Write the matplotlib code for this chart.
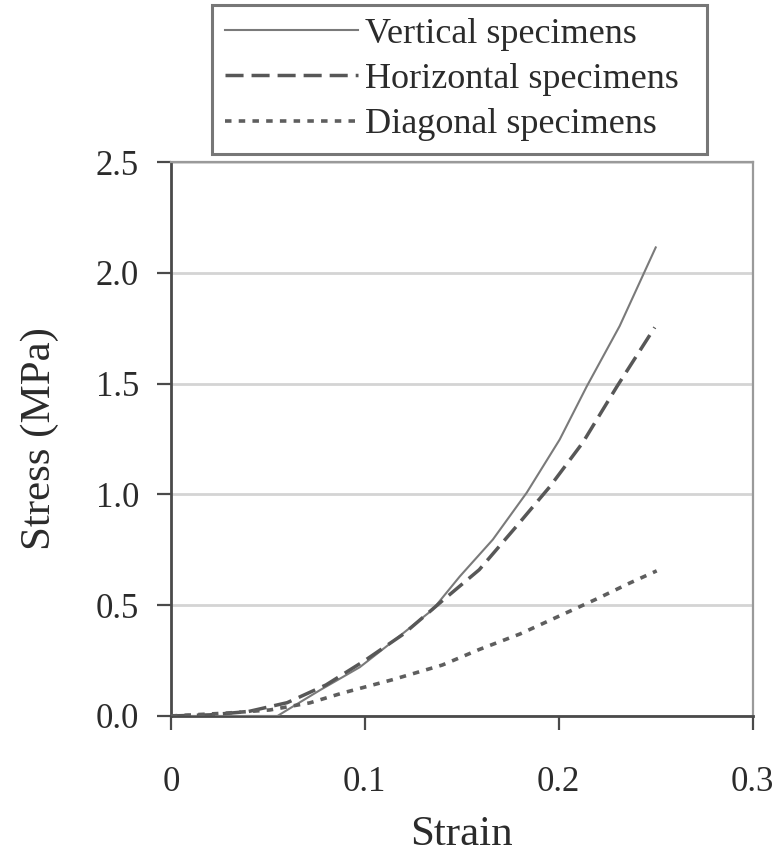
import matplotlib
matplotlib.use("Agg")
import matplotlib.pyplot as plt

plt.rcParams["font.family"] = ["Liberation Serif", "DejaVu Serif"]

# data
vert_x = [0, 0.02, 0.04, 0.055, 0.06, 0.077, 0.0974, 0.115, 0.135, 0.149, 0.166, 0.1835, 0.2005, 0.2144, 0.2314, 0.25]
vert_y = [0, 0, 0, 0.0, 0.027, 0.117, 0.22, 0.34, 0.48, 0.63, 0.796, 1.008, 1.248, 1.487, 1.76, 2.115]

horz_x = [0, 0.02, 0.04, 0.06, 0.08, 0.1, 0.12, 0.14, 0.159, 0.178, 0.1954, 0.2124, 0.23, 0.2495]
horz_y = [0, 0.005, 0.02, 0.06, 0.14, 0.25, 0.37, 0.52, 0.66, 0.854, 1.035, 1.234, 1.487, 1.754]

diag_x = [0, 0.029, 0.051, 0.0716, 0.0887, 0.114, 0.14, 0.159, 0.18, 0.2, 0.22, 0.2366, 0.2505]
diag_y = [0, 0.013, 0.027, 0.059, 0.104, 0.163, 0.23, 0.30, 0.37, 0.45, 0.53, 0.60, 0.655]

labels = ["Vertical specimens", "Horizontal specimens", "Diagonal specimens"]
x_ticks = [0, 0.1, 0.2, 0.3]
x_ticklabels = ["0", "0.1", "0.2", "0.3"]
y_ticks = [0.0, 0.5, 1.0, 1.5, 2.0, 2.5]
y_ticklabels = ["0.0", "0.5", "1.0", "1.5", "2.0", "2.5"]

TXT = "#2b2b2b"

fig = plt.figure(figsize=(7.8, 8.56), dpi=100)
ax = fig.add_axes([0.219, 0.1636, 0.746, 0.647])

ax.plot(vert_x, vert_y, color="#7a7a7a", lw=1.5, label=labels[0], zorder=3)
ax.plot(horz_x, horz_y, color="#575757", lw=2.5, dashes=(5.2, 2.3), label=labels[1], zorder=3)
ax.plot(diag_x, diag_y, color="#5e5e5e", lw=2.6, dashes=(1.8, 2.0), label=labels[2], zorder=3)

ax.set_xlim(0, 0.3)
ax.set_ylim(0, 2.5)
ax.set_xticks(x_ticks)
ax.set_xticklabels(x_ticklabels)
ax.set_yticks(y_ticks)
ax.set_yticklabels(y_ticklabels)
ax.yaxis.grid(True, color="#d4d4d4", lw=2.0)
ax.set_axisbelow(True)

for side in ["left", "bottom"]:
    ax.spines[side].set_color("#4a4a4a")
    ax.spines[side].set_linewidth(2.0)
for side in ["right", "top"]:
    ax.spines[side].set_color("#9a9a9a")
    ax.spines[side].set_linewidth(1.6)

ax.tick_params(axis="both", direction="out", length=10, width=1.6, color="#4a4a4a",
               labelsize=25, labelcolor=TXT)
ax.tick_params(axis="y", pad=13)
ax.tick_params(axis="x", pad=26)

ax.set_xlabel("Strain", fontsize=31, color=TXT, labelpad=12)
ax.set_ylabel("Stress (MPa)", fontsize=31, color=TXT, labelpad=26)

leg = fig.legend(
    loc="upper left",
    bbox_to_anchor=(0.2718, 0.9942 - 0.5, 0.6346, 0.5),
    mode="expand",
    fontsize=26,
    frameon=True,
    fancybox=False,
    handlelength=3.7,
    handletextpad=0.2,
    labelspacing=0.33,
    borderpad=0.35,
    borderaxespad=0.0,
)
frame = leg.get_frame()
frame.set_edgecolor("#555555")
frame.set_linewidth(2.2)
for t in leg.get_texts():
    t.set_color(TXT)

fig.savefig("out.png", dpi=100)
